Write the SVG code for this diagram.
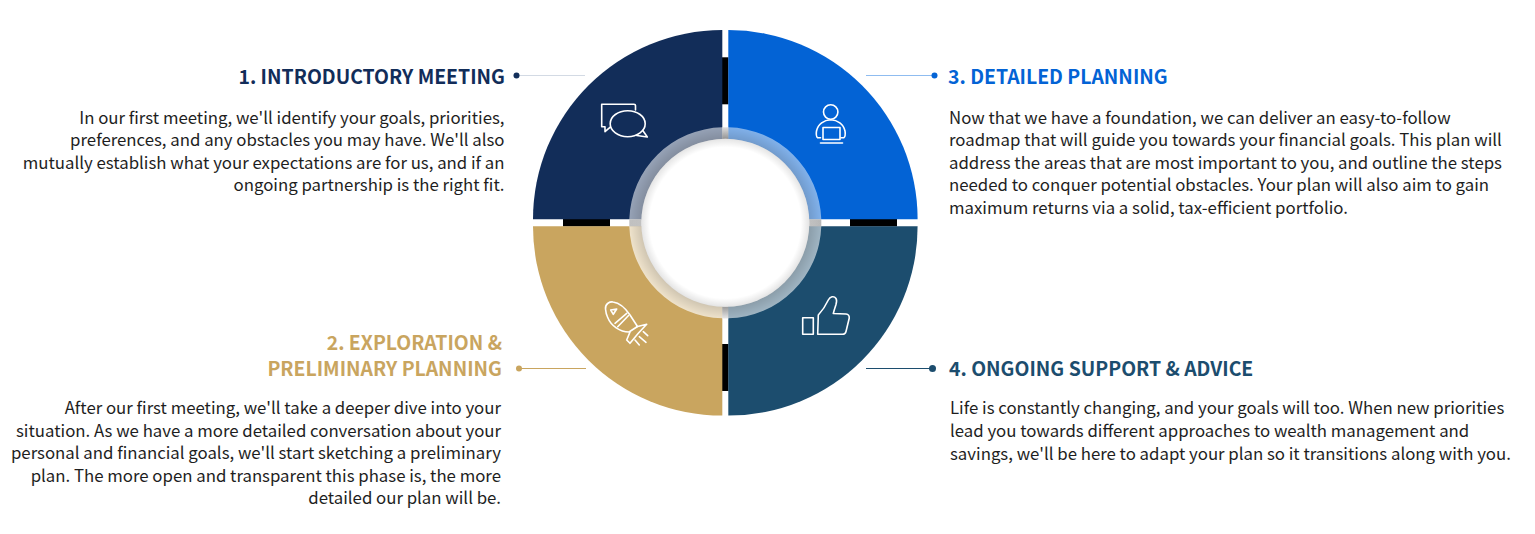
<svg xmlns="http://www.w3.org/2000/svg" width="1535" height="534" viewBox="0 0 1535 534">
<style>
.t{font-family:"Noto Sans CJK SC","Noto Sans",sans-serif;}
.h{font-size:19.4px;font-weight:700}
.b{font-size:16.8px;fill:#1e1e1e}
.r{text-anchor:end}
.ic{fill:none;stroke:#fff;stroke-width:1.6;stroke-linejoin:round;stroke-linecap:round}
.bar{fill:#000}
.lead{fill:none;stroke-width:1}
</style>
<defs>
<radialGradient id="shadow" gradientUnits="userSpaceOnUse" cx="725.3" cy="222.8" r="96">
<stop offset=".84" stop-color="#000" stop-opacity=".16"/><stop offset="1" stop-color="#000" stop-opacity="0"/>
</radialGradient>
<radialGradient id="disc" gradientUnits="userSpaceOnUse" cx="725.3" cy="222.8" r="84">
<stop offset=".9" stop-color="#fff"/><stop offset="1" stop-color="#fff" stop-opacity=".45"/>
</radialGradient>
<linearGradient id="gap" x1="0" y1="0" x2="0" y2="1"><stop offset="0" stop-color="#e0e0e0"/><stop offset="1" stop-color="#a8a8a8"/></linearGradient>
<linearGradient id="gapb" x1="0" y1="1" x2="0" y2="0"><stop offset="0" stop-color="#e8e8e8"/><stop offset="1" stop-color="#b0b0b0"/></linearGradient>
<linearGradient id="gapl" x1="0" y1="0" x2="1" y2="0"><stop offset="0" stop-color="#c0c0c0"/><stop offset="1" stop-color="#dcdcdc"/></linearGradient>
<linearGradient id="gapr" x1="0" y1="0" x2="1" y2="0"><stop offset="0" stop-color="#dcdcdc"/><stop offset="1" stop-color="#b8b8b8"/></linearGradient>
</defs>

<g id="connectors">
<path class="lead" stroke="#d3dae4" d="M516 75.500H585"/><circle cx="516.500" cy="75.500" r="3" fill="#132f5b"/>
<path class="lead" stroke="#8fbcf0" d="M866 75.500H934"/><circle cx="934.500" cy="75.500" r="3" fill="#0464d6"/>
<path class="lead" stroke="#c9a55f" d="M519 368.500H586"/><circle cx="519" cy="368.500" r="3" fill="#c9a55f"/>
<path class="lead" stroke="#1c4d6e" d="M866 368.500H932"/><circle cx="932.500" cy="368.500" r="3.500" fill="#1c4d6e"/>
</g>

<g id="gaps">
<rect class="bar" x="722" y="57.300" width="6.500" height="47"/>
<rect class="bar" x="563" y="219" width="47" height="7.500"/>
<rect class="bar" x="850" y="219" width="47" height="7.500"/>
<rect class="bar" x="722" y="344" width="6.500" height="47"/>
</g>

<g id="node-1">
<path fill="#122d59" d="M533 219.300A189.300 189.300 0 0 1 722.300 30V219.300Z"/>
<g class="ic">
<path d="M635.500 110V105.500Q635.500 104.300 634 104.300H601.700V126.700H605V131.700L610 127.300"/>
<ellipse cx="627.700" cy="123.700" rx="17.500" ry="13"/>
<path d="M642.800 130.500L647.300 137L636.700 135.500"/>
</g>
</g>

<g id="node-2">
<path fill="#c9a55f" d="M533 226.300A189.300 189.300 0 0 0 722.300 415.600V226.300Z"/>
<g class="ic">
<path d="M605.500 309C605 303.500 610 301.500 613 302C620 303 626 309 630 315L637.500 326.500L629 332C620 332 611 326 607.500 317C606 314 605.700 311 605.500 309Z"/>
<path d="M615 323.300L626.700 313.300M617.700 326.700L628.300 315.700"/>
<path d="M610.700 310L616.700 309L613.300 314.300Z"/>
<path d="M636.700 326.700L646.700 324.300L638.300 333.300L630 343.300L626.700 340L630 332M635 340L639.300 345M639.300 336.700L646 342.300M643.300 331.700L647.700 335.700"/>
</g>
</g>

<g id="node-3">
<path fill="#0363d5" d="M728.300 30A189.300 189.300 0 0 1 917.600 219.300H728.300Z"/>
<g class="ic">
<circle cx="830.700" cy="112" r="7.200"/>
<path d="M820.500 137.800L817.700 137.800C816 136.500 816 134 816.500 131C818 124 824 120 830.700 119.700C837.500 120 843.500 124 845 131C845.500 134 845.500 136.500 843.700 137.800L841 137.800"/>
<rect x="823" y="127.500" width="17" height="12"/>
<path d="M820.500 143H842.500"/>
</g>
</g>

<g id="node-4">
<path fill="#1c4d6e" d="M728.300 226.300H917.600A189.300 189.300 0 0 1 728.300 415.600Z"/>
<g class="ic">
<rect x="802.700" y="317.700" width="10.600" height="16.600"/>
<path d="M817.700 334.300L818.300 315C822 311 826 305 828.300 300C830 296.500 834 295.500 836 298.500C837 300 836.700 302 836 304.500C835 307.500 834 310.500 833.300 313.500L846 314C848.500 314.300 849.500 316 849.200 318.300L846 331.500C845.500 333.500 844.500 334.300 842.500 334.300Z"/>
</g>
</g>

<g id="ring">
<path d="M722.300 127.300A95 95 0 0 0 629.300 219.300H645A78 78 0 0 1 722.300 145Z" fill="#fff" fill-opacity=".56"/>
<path d="M728.300 127.300A95 95 0 0 1 821.300 219.300H805A78 78 0 0 0 728.300 145Z" fill="#fff" fill-opacity=".5"/>
<path d="M722.300 318.300A95 95 0 0 1 629.300 226.300H645A78 78 0 0 0 722.300 300Z" fill="#fff" fill-opacity=".68"/>
<path d="M728.300 318.300A95 95 0 0 0 821.300 226.300H805A78 78 0 0 1 728.300 300Z" fill="#fff" fill-opacity=".58"/>
<rect x="722.300" y="127.300" width="6" height="12" fill="url(#gap)"/>
<rect x="722.300" y="306.500" width="6" height="12" fill="url(#gapb)"/>
<rect x="629.300" y="219.300" width="12" height="7" fill="url(#gapl)"/>
<rect x="809.300" y="219.300" width="12" height="7" fill="url(#gapr)"/>
<circle cx="725.300" cy="222.800" r="96" fill="url(#shadow)"/>
<circle cx="725.300" cy="222.800" r="84" fill="#cfcfcf"/>
<circle cx="725.300" cy="222.800" r="84" fill="url(#disc)"/>
</g>

<g id="label-1" class="t">
<text class="h r" x="505" y="83.500" fill="#122d59">1. INTRODUCTORY MEETING</text>
<text class="b r" x="504.500" y="123.500">In our first meeting, we'll identify your goals, priorities,</text>
<text class="b r" x="504.500" y="146">preferences, and any obstacles you may have. We'll also</text>
<text class="b r" x="504.500" y="168.500">mutually establish what your expectations are for us, and if an</text>
<text class="b r" x="504.500" y="191">ongoing partnership is the right fit.</text>
</g>
<g id="label-2" class="t">
<text class="h r" x="502" y="349.500" fill="#c9a55f">2. EXPLORATION &amp;</text>
<text class="h r" x="502" y="375.500" fill="#c9a55f">PRELIMINARY PLANNING</text>
<text class="b r" x="501" y="414">After our first meeting, we'll take a deeper dive into your</text>
<text class="b r" x="501" y="436.500">situation. As we have a more detailed conversation about your</text>
<text class="b r" x="501" y="459">personal and financial goals, we'll start sketching a preliminary</text>
<text class="b r" x="501" y="481.500">plan. The more open and transparent this phase is, the more</text>
<text class="b r" x="501" y="504">detailed our plan will be.</text>
</g>
<g id="label-3" class="t">
<text class="h" x="948" y="83.500" fill="#0363d5">3. DETAILED PLANNING</text>
<text class="b" x="949" y="123.500">Now that we have a foundation, we can deliver an easy-to-follow</text>
<text class="b" x="949" y="146">roadmap that will guide you towards your financial goals. This plan will</text>
<text class="b" x="949" y="168.500">address the areas that are most important to you, and outline the steps</text>
<text class="b" x="949" y="191">needed to conquer potential obstacles. Your plan will also aim to gain</text>
<text class="b" x="949" y="213.500">maximum returns via a solid, tax-efficient portfolio.</text>
</g>
<g id="label-4" class="t">
<text class="h" x="949" y="375.500" fill="#1c4d6e">4. ONGOING SUPPORT &amp; ADVICE</text>
<text class="b" x="950" y="414">Life is constantly changing, and your goals will too. When new priorities</text>
<text class="b" x="950" y="436.500">lead you towards different approaches to wealth management and</text>
<text class="b" x="950" y="459.500">savings, we'll be here to adapt your plan so it transitions along with you.</text>
</g>
</svg>
